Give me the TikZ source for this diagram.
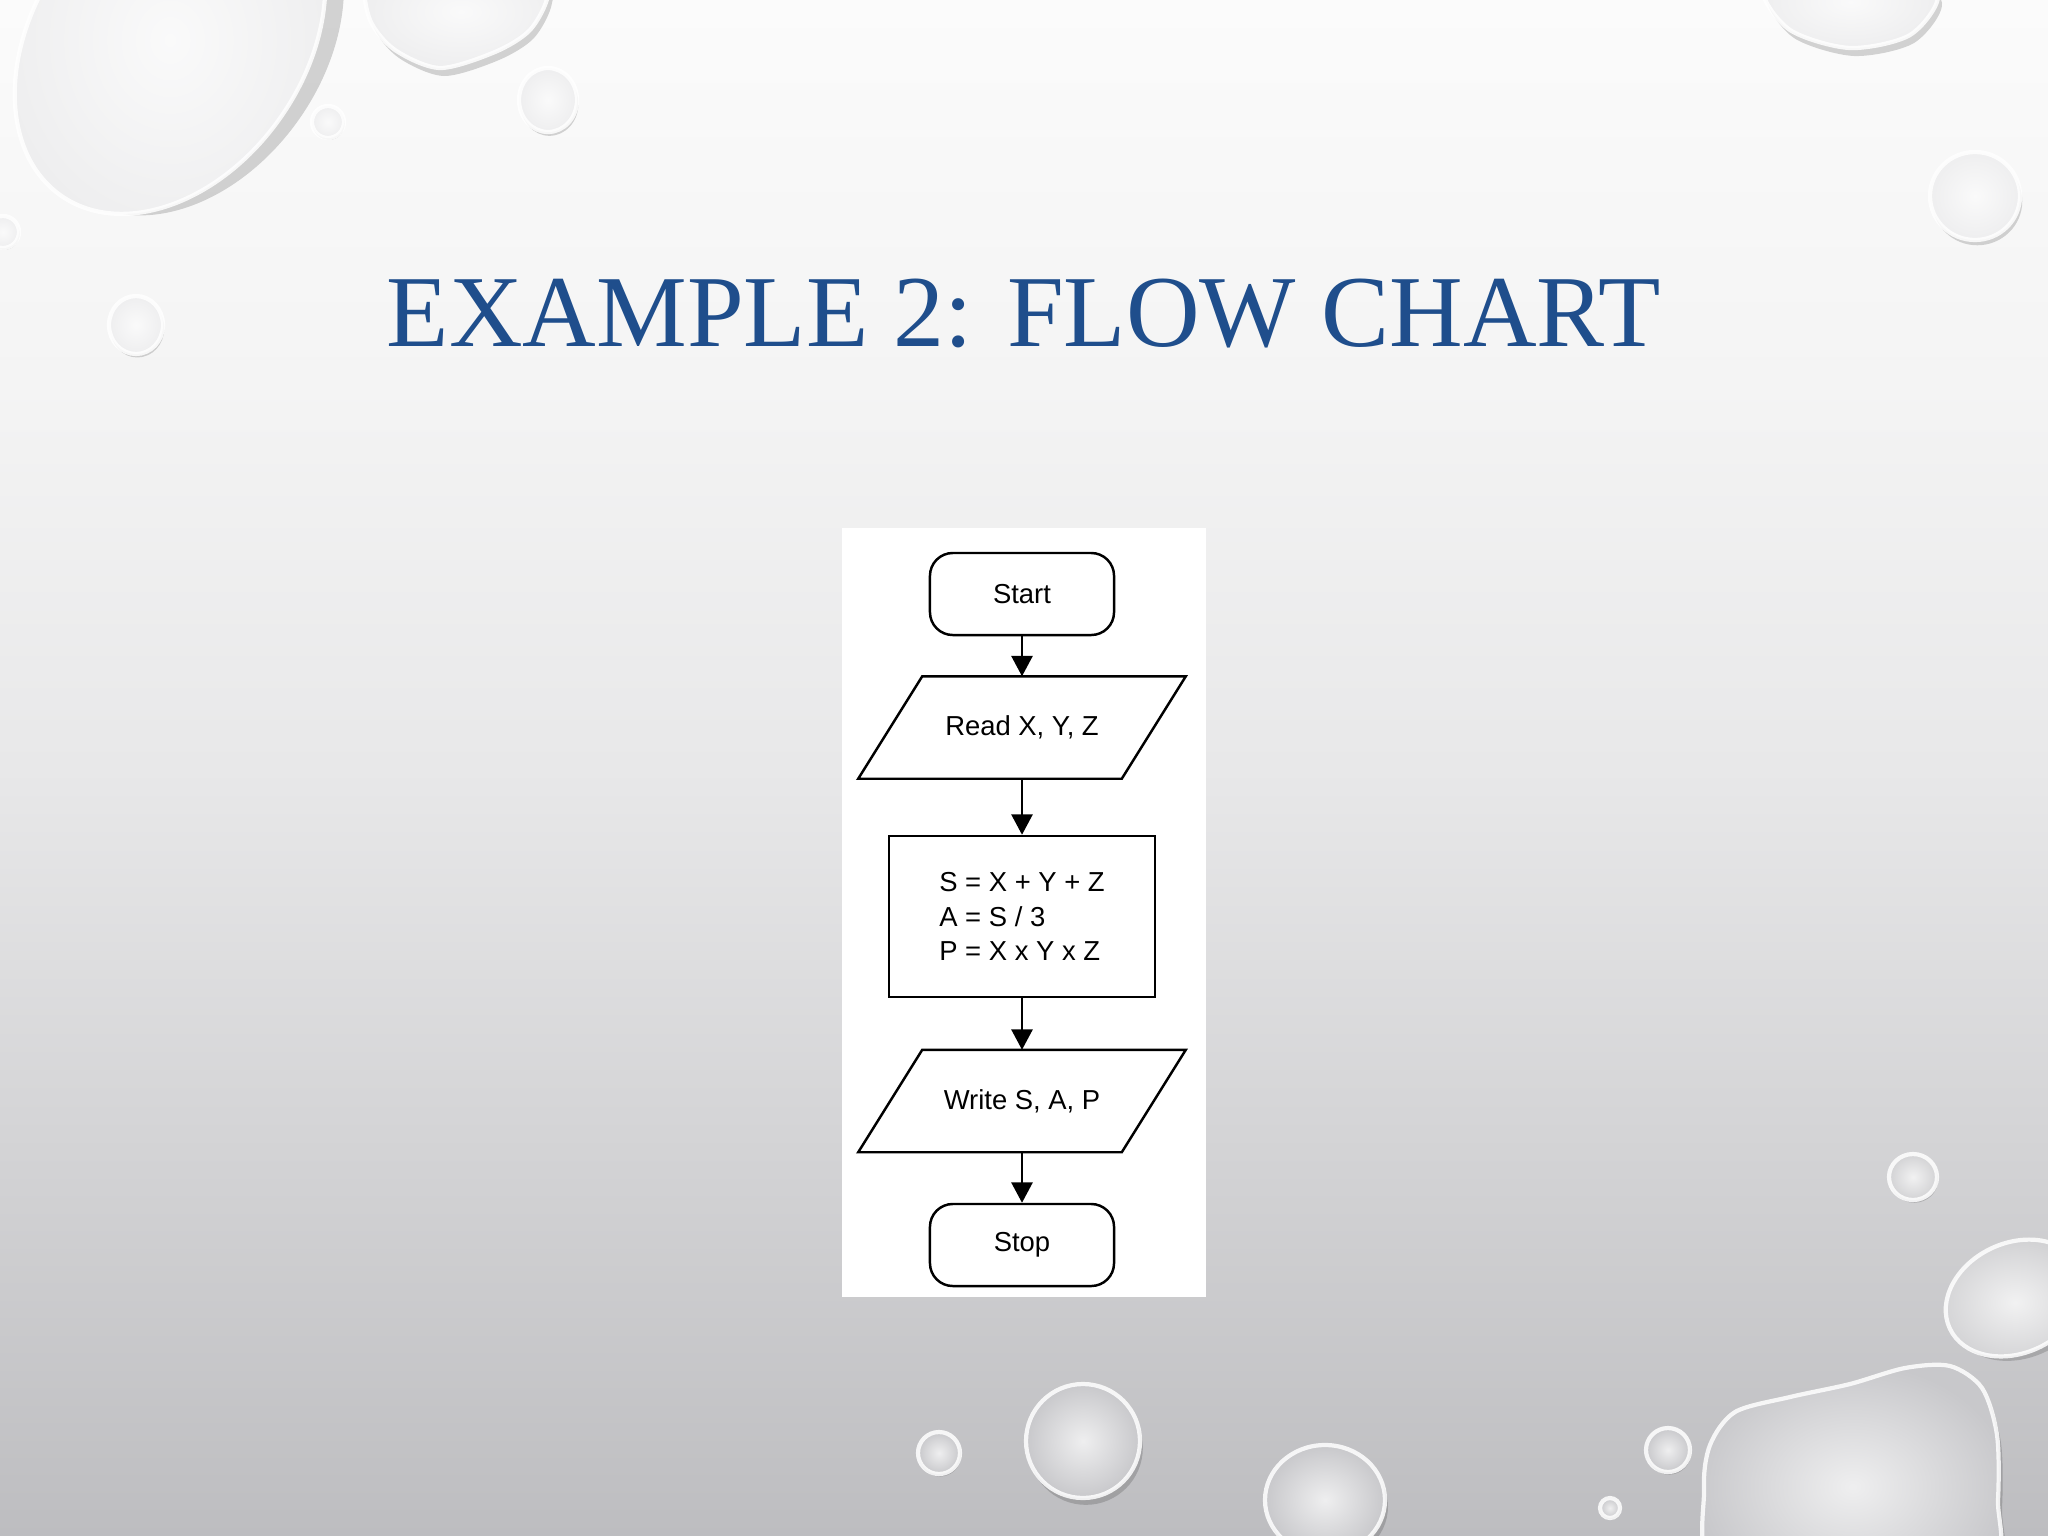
\documentclass[tikz,border=0pt]{standalone}
\usepackage{fontspec}
\setmainfont{Liberation Serif}
\newfontfamily\fcfont{Liberation Sans}
\usetikzlibrary{arrows.meta,calc}
\definecolor{titleblue}{HTML}{1F4E8C}
\definecolor{bgA}{HTML}{BDBDC0}
\definecolor{bgB}{HTML}{D3D3D5}
\definecolor{bgC}{HTML}{E8E8E9}
\definecolor{bgD}{HTML}{F4F4F4}
\definecolor{bgE}{HTML}{FBFBFB}
\definecolor{dropTop}{HTML}{EEEEEF}
\definecolor{dropMid}{HTML}{D2D2D4}
\definecolor{dropLow}{HTML}{C8C8CB}
\pgfdeclareverticalshading{slidebg}{100bp}{color(0bp)=(bgA); color(25bp)=(bgA); color(37.5bp)=(bgB); color(50bp)=(bgC); color(62.5bp)=(bgD); color(75bp)=(bgE); color(100bp)=(bgE)}
\tikzset{
  fc/.style={font=\fcfont\fontsize{7.8}{9.7}\selectfont, inner sep=0pt},
  term/.style={fc, draw, line width=0.7pt, rounded corners=6.5pt, minimum width=1.84cm, minimum height=0.82cm},
  proc/.style={fc, draw, line width=0.7pt, minimum width=2.66cm, minimum height=1.61cm, align=left},
  io/.style={fc, minimum width=2.62cm, minimum height=1.01cm},
  para/.style={draw, line width=0.7pt},
  flow/.style={line width=0.7pt, -{Triangle[width=6pt,length=5.8pt]}},
  dropshadow/.style={fill=black, opacity=.16},
  droprim/.style={draw=white, line width=1.2pt, opacity=.85}
}
\newcommand\droplet[6]{%
  \begin{scope}[shift={(#1,#2)},rotate=#5]
    \fill[dropshadow] (0.05*#3,0.12*#4) ellipse[x radius=#3, y radius=#4];
    \shade[inner color=white!70!#6, outer color=#6] (0,0) ellipse[x radius=#3, y radius=#4];
    \draw[droprim] (0,0) ellipse[x radius=#3, y radius=#4];
  \end{scope}}
\newcommand\blob[2]{%
  \fill[dropshadow, shift={(4,8)}] plot[smooth cycle] coordinates {#1};
  \shade[inner color=white!70!#2, outer color=#2] plot[smooth cycle] coordinates {#1};
  \draw[droprim] plot[smooth cycle] coordinates {#1};}
\begin{document}
\begin{tikzpicture}[x=0.01cm, y=-0.01cm]
\useasboundingbox (0,0) rectangle (2048,1536);
\clip (0,0) rectangle (2048,1536);
\shade[shading=slidebg] (0,0) rectangle (2048,1536);
% droplets
\droplet{170}{40}{190}{135}{55}{dropTop}
\blob{(366,-20) (370,20) (395,50) (440,68) (495,52) (530,30) (548,-5) (540,-40) (400,-40)}{dropTop}
\blob{(1763,-10) (1790,30) (1850,48) (1910,35) (1938,-5) (1900,-40) (1800,-40)}{dropTop}
\blob{(1704,1490) (1710,1445) (1735,1412) (1790,1397) (1850,1384) (1905,1368) (1950,1366) (1982,1388) (1997,1435) (1998,1500) (1990,1570) (1850,1610) (1715,1570)}{dropLow}
\droplet{328}{122}{16}{16}{0}{dropTop}
\droplet{548}{100}{29}{32}{0}{dropTop}
\droplet{3}{232}{16}{16}{0}{dropTop}
\droplet{136}{325}{27}{29}{0}{dropTop}
\droplet{1975}{196}{45}{44}{0}{dropTop}
\droplet{1913}{1177}{24}{23}{0}{dropMid}
\droplet{2015}{1298}{72}{55}{25}{dropMid}
\droplet{1668}{1450}{22}{22}{0}{dropLow}
\droplet{1610}{1508}{10}{10}{0}{dropLow}
\droplet{939}{1453}{21}{21}{0}{dropLow}
\droplet{1083}{1441}{57}{57}{0}{dropLow}
\droplet{1325}{1500}{60}{55}{0}{dropLow}
% title
\node[font=\fontsize{29}{34}\selectfont, text=titleblue, anchor=base, inner sep=0pt] (title) at (1024,346) {EXAMPLE 2: FLOW CHART};
% flowchart panel
\node[fill=white, minimum width=3.64cm, minimum height=7.69cm, inner sep=0pt] (panel) at (1024,912.5) {};
\node[term] (start) at (1022,594) {Start};
\node[io] (read) at (1022,727.5) {Read X, Y, Z};
\draw[para] ([xshift=0.32cm]read.north west) -- ([xshift=0.32cm]read.north east) -- ([xshift=-0.32cm]read.south east) -- ([xshift=-0.32cm]read.south west) -- cycle;
\node[proc] (calc) at (1022,916.5) {S = X + Y + Z\\A = S / 3\\P = X x Y x Z};
\node[io] (write) at (1022,1101) {Write S, A, P};
\draw[para] ([xshift=0.32cm]write.north west) -- ([xshift=0.32cm]write.north east) -- ([xshift=-0.32cm]write.south east) -- ([xshift=-0.32cm]write.south west) -- cycle;
\node[term] (stop) at (1022,1245) {Stop};
\draw[flow] (start) -- (read);
\draw[flow] (read) -- (calc);
\draw[flow] (calc) -- (write);
\draw[flow] (write) -- (stop);
\end{tikzpicture}
\end{document}
